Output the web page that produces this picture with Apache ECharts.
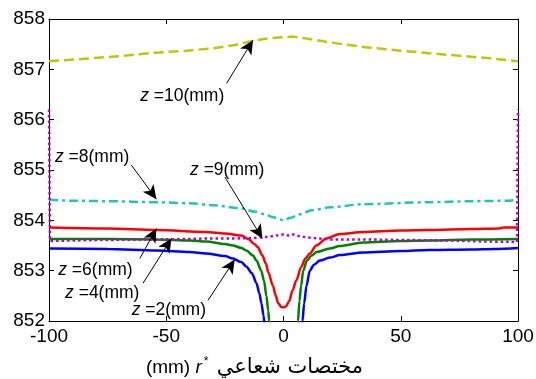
<!DOCTYPE html>
<html><head><meta charset="utf-8">
<script src="https://cdn.jsdelivr.net/npm/echarts@6/dist/echarts.min.js"></script>
<style>html,body{margin:0;padding:0;background:#fff}#c{width:536px;height:379px}</style>
</head><body><div id="c"></div>
<script>
// ---- data ----
const xTicks = [-100, -50, 0, 50, 100];
const yTicks = [852, 853, 854, 855, 856, 857, 858];

const z2 = [[-100,853.44],[-75,853.43],[-54,853.40],[-40,853.37],[-33,853.34],[-25,853.29],[-21.5,853.24],[-18,853.17],[-15.8,853.08],[-13.5,852.95],[-11.5,852.75],[-10.3,852.55],[-9.4,852.35],[-8.5,852.1],[-8,851.9],[-7.2,851.0],[7.2,851.0],[8.1,852.0],[8.8,852.35],[9.8,852.7],[11.2,853.0],[13,853.12],[15.5,853.2],[19.8,853.26],[24,853.31],[34,853.36],[50,853.39],[62,853.41],[80,853.42],[90,853.43],[100,853.45]];
const z4 = [[-100,853.63],[-75,853.63],[-54,853.62],[-40,853.6],[-33,853.58],[-25,853.53],[-21.5,853.50],[-18,853.45],[-15.8,853.40],[-13,853.3],[-11.5,853.20],[-9.5,853.0],[-8.3,852.80],[-7.3,852.5],[-6.5,852.2],[-6.1,852.0],[-5.5,851.5],[5.5,851.5],[6.2,852.0],[6.8,852.4],[7.5,852.7],[8.4,853.0],[10,853.2],[12,853.3],[14.1,853.37],[19.8,853.44],[24,853.49],[34,853.56],[50,853.59],[62,853.60],[80,853.62],[100,853.63]];
const z6 = [[-100,853.86],[-75,853.84],[-54,853.81],[-33,853.77],[-25,853.74],[-18,853.70],[-15,853.63],[-12.5,853.53],[-11,853.47],[-9,853.3],[-7.5,853.14],[-6.5,852.97],[-4.5,852.7],[-3.3,852.5],[-2.3,852.36],[-1,852.28],[0,852.27],[1,852.29],[2.5,852.4],[3.8,852.6],[5.5,852.81],[7.5,853.07],[9.3,853.24],[11.2,853.34],[14,853.5],[18.3,853.64],[24,853.73],[34,853.77],[50,853.80],[62,853.81],[80,853.83],[92,853.84],[94,853.86],[100,853.86]];
const z8 = [[-100,854.41],[-90,854.39],[-75,854.38],[-54,854.36],[-40,854.34],[-30,854.30],[-18.5,854.24],[-12,854.17],[-8,854.12],[-4.3,854.06],[0,854.0],[3,854.05],[7,854.12],[12,854.2],[19.8,854.26],[34,854.32],[62,854.36],[80,854.38],[96,854.39],[98,854.40],[100,854.42]];
const z9 = [[-100,856.2],[-99.6,853.59],[-90,853.6],[-75,853.61],[-54,853.62],[-40,853.63],[-33,853.64],[-20,853.64],[-12,853.65],[-7.3,853.67],[-4,853.69],[-1.6,853.71],[0,853.72],[2,853.70],[4,853.72],[7,853.68],[12,853.65],[20,853.62],[35,853.62],[50,853.61],[70,853.60],[85,853.58],[99.6,853.57],[100,856.2]];
const z10 = [[-100,857.16],[-85,857.21],[-70,857.26],[-55,857.33],[-41,857.37],[-30,857.42],[-20,857.49],[-13,857.57],[-6,857.62],[0,857.64],[4,857.65],[10,857.61],[18,857.55],[25,857.50],[35,857.44],[50,857.37],[62,857.32],[75,857.27],[88,857.22],[100,857.16]];

// annotation labels and arrows (data coordinates)
const annLabels = ['10', '8', '9', '6', '4', '2'];
const annText = [[-43.2,856.46],[-81.6,855.26],[-24,855.0],[-80.2,853.01],[-77.3,852.55],[-48.9,852.21]];
const annFrom = [[-24.3,856.72],[-64.9,855.10],[-25,854.86],[-61.3,853.24],[-59.9,852.75],[-32.2,852.41]];
const annTo = [[-13,857.58],[-54.2,854.42],[-9,853.64],[-54.2,853.84],[-47.8,853.64],[-20.8,853.22]];

const xName = 'مختصات شعاعي';

// ---- chart ----
const FONT = 'Liberation Sans, Arial, sans-serif';
const chart = echarts.init(document.getElementById('c'), null, {renderer: 'canvas'});
function line(data, color, type, width, smooth) {
  return {type: 'line', data: data, showSymbol: false, symbol: 'none', smooth: smooth || false, smoothMonotone: 'x',
    lineStyle: {color: color, width: width, type: type, cap: 'butt'}, z: 3, clip: true, silent: true};
}
const axisCommon = {
  type: 'value',
  axisLine: {show: true, onZero: false, lineStyle: {color: '#000', width: 1}},
  axisTick: {show: true, inside: true, length: 5, lineStyle: {color: '#000', width: 1}},
  splitLine: {show: false}
};
chart.setOption({
  animation: false,
  backgroundColor: '#fff',
  grid: {left: 49, right: 18, top: 19, bottom: 58, containLabel: false, outerBoundsMode: 'none'},
  xAxis: [
    Object.assign({}, axisCommon, {
      position: 'bottom', min: xTicks[0], max: xTicks[xTicks.length-1], interval: 50,
      axisLabel: {show: true, color: '#000', fontSize: 19, fontFamily: FONT, margin: 6},
      name: '{n|(mm) }{i|r}{s|*}{n| }{a|' + xName + '}',
      nameLocation: 'middle', nameGap: 35,
      nameTextStyle: {padding: [0, 58, 0, 0], rich: {
        n: {fontSize: 19, fontFamily: FONT, color: '#000'},
        i: {fontSize: 19, fontFamily: FONT, fontStyle: 'italic', color: '#000'},
        s: {fontSize: 12, fontFamily: FONT, color: '#000', verticalAlign: 'top', padding: [0, 3, 12, 2]},
        a: {fontSize: 21, fontFamily: 'DejaVu Sans, Noto Sans, sans-serif', color: '#000'}
      }}
    }),
    Object.assign({}, axisCommon, {
      position: 'top', min: xTicks[0], max: xTicks[xTicks.length-1], interval: 50,
      axisLabel: {show: false}
    })
  ],
  yAxis: [
    Object.assign({}, axisCommon, {
      position: 'left', min: yTicks[0], max: yTicks[yTicks.length-1], interval: 1,
      axisLabel: {show: true, color: '#000', fontSize: 19, fontFamily: FONT, margin: 4}
    }),
    Object.assign({}, axisCommon, {
      position: 'right', min: yTicks[0], max: yTicks[yTicks.length-1], interval: 1,
      axisLabel: {show: false}
    })
  ],
  series: [
    line(z10, '#c4c400', [10, 5], 2.5),
    line(z8, '#1ec4c4', [9, 4, 3, 4], 2.5, 0.3),
    line(z6, '#ff0000', 'solid', 2.5, 0.3),
    line(z4, '#008000', 'solid', 2.5, 0.3),
    line(z2, '#0000ff', 'solid', 2.5, 0.3),
    line(z9, '#c000c0', [2.5, 3], 2.5),
    {
      type: 'line', data: [], silent: true, z: 5,
      markLine: {
        silent: true, animation: false,
        symbol: ['none', 'arrow'], symbolSize: [10, 14],
        lineStyle: {color: '#000', width: 1, type: 'solid'},
        label: {show: false},
        data: annFrom.map((f, i) => [{coord: f}, {coord: annTo[i]}])
      },
      markPoint: {
        silent: true, animation: false,
        symbol: 'circle', symbolSize: 1, itemStyle: {color: 'rgba(0,0,0,0)'},
        label: {show: true, position: 'inside', color: '#000', fontSize: 17.5, fontFamily: FONT,
          rich: {i: {fontSize: 17.5, fontFamily: FONT, fontStyle: 'italic', color: '#000'}}},
        data: annText.map((p, i) => ({coord: p, label: {formatter: '{i|z} =' + annLabels[i] + '(mm)'}}))
      }
    }
  ]
});
</script></body></html>
